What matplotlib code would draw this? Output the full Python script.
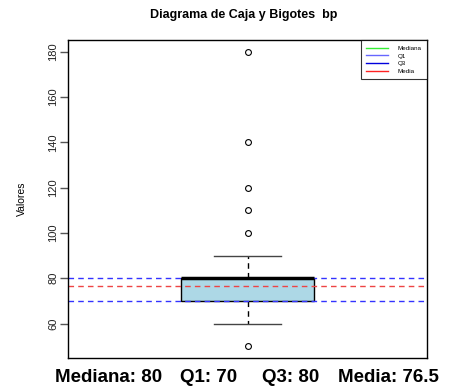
import matplotlib
matplotlib.use("Agg")
import matplotlib.pyplot as plt
from matplotlib.lines import Line2D

plt.rcParams['font.family'] = ['Liberation Sans', 'DejaVu Sans']

# Data
q1, median, q3 = 70, 80, 80
whisker_low, whisker_high = 60, 90
mean_val = 76.5
outliers = [50, 100, 110, 120, 140, 180]
y_ticks = [60, 80, 100, 120, 140, 160, 180]
summary_labels = ["Mediana: 80", "Q1: 70", "Q3: 80", "Media: 76.5"]
legend_labels = ["Mediana", "Q1", "Q3", "Media"]
legend_colors = ["#33ee33", "#6666ff", "#0000dd", "#ff2222"]

stats = [dict(med=median, q1=q1, q3=q3, whislo=whisker_low, whishi=whisker_high,
              fliers=outliers, label="")]

fig = plt.figure(figsize=(4.49, 3.91), dpi=100)
ax = fig.add_axes([68/449, 1-358/391, (427-68)/449, (358-40)/391])

ax.bxp(stats, positions=[1], widths=0.373, patch_artist=True, showfliers=True,
       boxprops=dict(facecolor="#ADD8E6", edgecolor="black", linewidth=1),
       medianprops=dict(color="black", linewidth=2.5),
       whiskerprops=dict(color="black", linestyle=(0, (4, 3)), linewidth=1),
       capprops=dict(color="#444444", linewidth=1),
       capwidths=0.187,
       flierprops=dict(marker="o", markerfacecolor="white", markeredgecolor="black",
                       markersize=4.2, markeredgewidth=0.8))

ax.axhline(q1, color="#3333ff", linestyle=(0, (4, 3)), linewidth=1)
ax.axhline(q3, color="#3333ff", linestyle=(0, (4, 3)), linewidth=1)
ax.axhline(mean_val, color="#ee4444", linestyle=(0, (4, 3)), linewidth=1)

ax.set_xlim(0.5, 1.5)
ax.set_ylim(44.8, 185.2)
ax.set_xticks([])
ax.set_yticks(y_ticks)
ax.set_yticklabels([str(t) for t in y_ticks], rotation=90, va="center", fontsize=8, color="#222222")
ax.tick_params(axis="y", length=6, width=1, color="#555555", pad=1)
for s in ax.spines.values():
    s.set_linewidth(1)
    s.set_color("black")
ax.set_ylabel("Valores", fontsize=7.5, labelpad=15)

fig.text(244/449, 1-15/391, "Diagrama de Caja y Bigotes  bp", ha="center", va="center",
         fontsize=9, fontweight="bold")

handles = [Line2D([0], [0], color=c, linewidth=1) for c in legend_colors]
leg = ax.legend(handles, legend_labels, loc="upper right", fontsize=4.5, frameon=True,
                fancybox=False, edgecolor="black", borderaxespad=0, handlelength=3.5,
                labelspacing=0.35, borderpad=0.9, handletextpad=1.5)
leg.get_frame().set_linewidth(0.8)

xs = [55, 180, 262, 338]
for x, lab in zip(xs, summary_labels):
    fig.text(x/449, 1-377/391, lab, ha="left", va="center", fontsize=13.5, fontweight="bold")

fig.savefig("out.png", dpi=100)
